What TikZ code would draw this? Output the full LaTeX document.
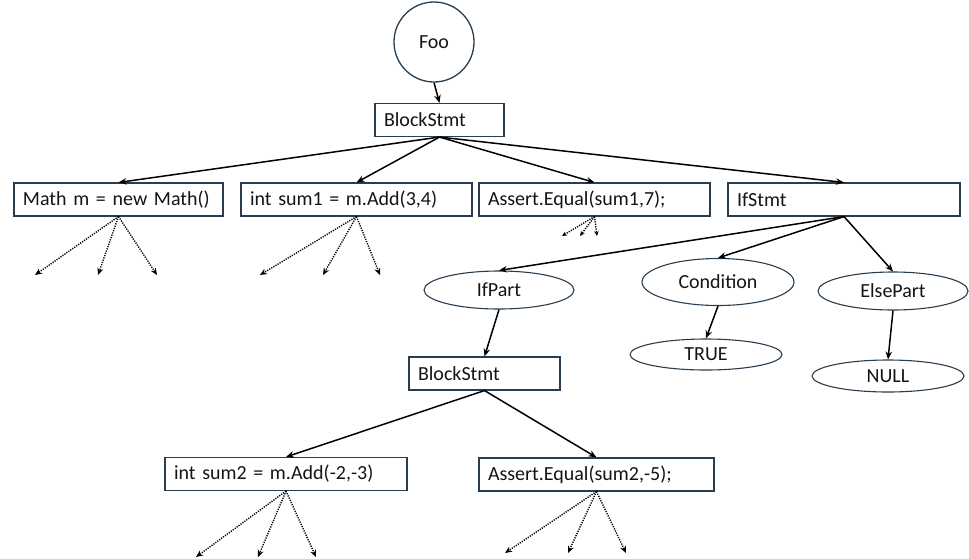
\documentclass[tikz,border=0pt]{standalone}
\usepackage{fontspec}
\setmainfont{Carlito}
\usetikzlibrary{shapes.geometric,arrows.meta}
\definecolor{edgec}{RGB}{40,62,80}
\definecolor{txtc}{RGB}{20,20,20}
\tikzset{
  lbl/.style={text=txtc, font=\fontsize{20}{23}\selectfont},
  box/.style={draw=edgec, line width=1.1pt, minimum height=33, inner xsep=9, inner ysep=0, align=left, lbl},
  oval/.style={draw=edgec, line width=1.1pt, ellipse, inner sep=0, lbl},
  arr/.style={-{Stealth[length=8pt,width=6.5pt]}, line width=1.5pt},
  dotarr/.style={-{Stealth[length=7pt,width=6pt]}, line width=1.4pt, dash pattern=on 1.2pt off 1.2pt}
}
\begin{document}
\begin{tikzpicture}[x=1pt,y=-1pt]
\useasboundingbox (0,0) rectangle (969,558);

% root and first block
\node[draw=edgec, line width=1.3pt, circle, minimum size=80, inner sep=0, lbl] (foo) at (434,42) {Foo};
\node[box, text width=111] (blk) at (439.5,120) {BlockStmt};

% top-level statements
\node[box, text width=191] (math) at (118.5,199.5) {Math m = new Math()};
\node[box, text width=213] (sum1) at (356.5,199.5) {int sum1 = m.Add(3,4)};
\node[box, text width=213] (as1) at (594.5,199.5) {Assert.Equal(sum1,7);};
\node[box, text width=214] (ifs) at (844,199.5) {IfStmt};

% parts of the if statement
\node[oval, minimum width=150, minimum height=38] (ifp) at (499,290) {IfPart};
\node[oval, minimum width=152, minimum height=47] (cond) at (718,282) {Condition};
\node[oval, minimum width=150, minimum height=38] (elsep) at (893,291) {ElsePart};
\node[oval, minimum width=152, minimum height=31] (tru) at (706,354.5) {TRUE};
\node[oval, minimum width=152, minimum height=32] (nul) at (888,376) {NULL};

% inner block
\node[box, text width=133] (blk2) at (484.5,373.5) {BlockStmt};
\node[box, text width=224] (sum2) at (286,474) {int sum2 = m.Add(-2,-3)};
\node[box, text width=217] (as2) at (596.5,474.5) {Assert.Equal(sum2,-5);};

% solid edges
\draw[arr] (foo.south) -- (blk.north);
\draw[arr] (blk.south) -- (math.north);
\draw[arr] (blk.south) -- (sum1.north);
\draw[arr] (blk.south) -- (as1.north);
\draw[arr] (blk.south) -- (ifs.north);
\draw[arr] (ifs.south) -- (ifp.north);
\draw[arr] (ifs.south) -- (cond.north);
\draw[arr] (ifs.south) -- (elsep.north);
\draw[arr] (cond.south) -- (tru.north);
\draw[arr] (elsep.south) -- (nul.north);
\draw[arr] (ifp.south) -- (blk2.north);
\draw[arr] (blk2.south) -- (sum2.north);
\draw[arr] (blk2.south) -- (as2.north);

% elided subtrees
\coordinate (m1) at (35,275);  \coordinate (m2) at (98,275);  \coordinate (m3) at (157,275);
\coordinate (s1) at (260,275); \coordinate (s2) at (323,275); \coordinate (s3) at (380,275);
\coordinate (a1) at (562,236); \coordinate (a2) at (580,236); \coordinate (a3) at (597,236);
\coordinate (t1) at (196,557); \coordinate (t2) at (258,557); \coordinate (t3) at (316,557);
\coordinate (u1) at (505,553); \coordinate (u2) at (568,553); \coordinate (u3) at (626,553);
\foreach \e in {m1,m2,m3} \draw[dotarr] (math.south) -- (\e);
\foreach \e in {s1,s2,s3} \draw[dotarr] (sum1.south) -- (\e);
\foreach \e in {a1,a2,a3} \draw[dotarr, -{Stealth[length=5pt,width=4.5pt]}] (as1.south) -- (\e);
\foreach \e in {t1,t2,t3} \draw[dotarr] (sum2.south) -- (\e);
\foreach \e in {u1,u2,u3} \draw[dotarr] (as2.south) -- (\e);
\end{tikzpicture}
\end{document}
